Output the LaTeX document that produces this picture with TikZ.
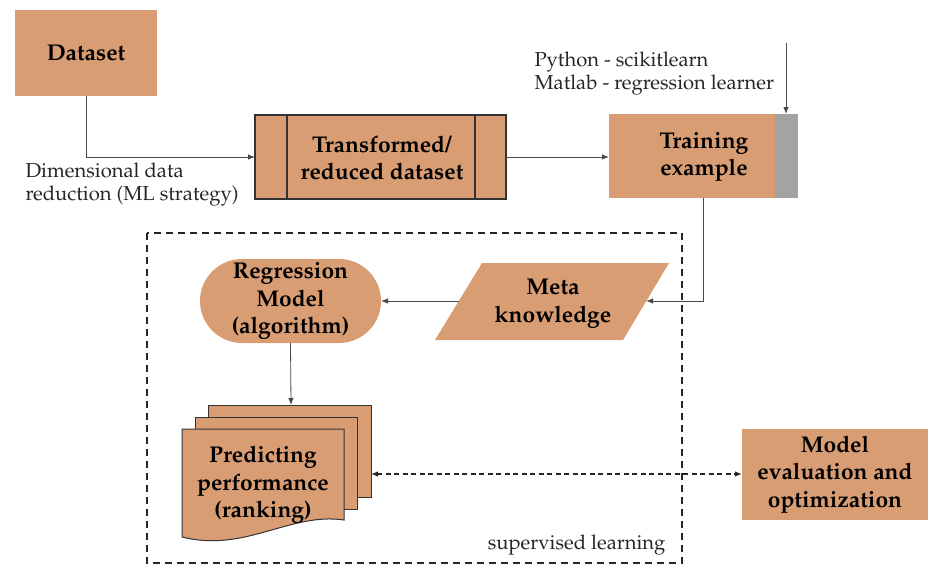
\documentclass[tikz,border=0pt]{standalone}
\usepackage[T1]{fontenc}
\usepackage{mathpazo}
\usetikzlibrary{arrows.meta,shapes.misc}
\definecolor{tanfill}{HTML}{D99D74}
\definecolor{barg}{HTML}{A3A3A3}
\definecolor{linec}{HTML}{4A4A4A}
\tikzset{
  boldtxt/.style={font=\fontsize{22.8}{27.5}\selectfont\bfseries, align=center, text=black},
  plaintxt/.style={font=\fontsize{20.2}{23.5}\selectfont, align=left, text=black!85},
  tanbox/.style={fill=tanfill, inner sep=0pt, outer sep=0pt, boldtxt},
  arr/.style={draw=linec, line width=0.8pt, -{Latex[length=7pt,width=5.5pt]}},
  darr/.style={draw=black!85, line width=1.3pt, dash pattern=on 5pt off 3.5pt, {Latex[length=7pt,width=5.5pt]}-{Latex[length=7pt,width=5.5pt]}},
  dbox/.style={draw=black!85, line width=1.6pt, dash pattern=on 7pt off 5pt},
  sheet/.style={fill=tanfill, draw=black!80, line width=1pt},
}
\begin{document}
\begin{tikzpicture}[x=1pt,y=-1pt]
\useasboundingbox (0,0) rectangle (928,565);

% Dataset
\node[tanbox, minimum width=142, minimum height=86] (data) at (86,53) {Dataset};

% Transformed / reduced dataset
\node[tanbox, draw=black!80, line width=1.1pt, minimum width=251, minimum height=84] (trans) at (380.5,157) {};
\draw[black!80, line width=1.1pt] ([xshift=32pt]trans.north west) -- ([xshift=32pt]trans.south west);
\draw[black!80, line width=1.1pt] ([xshift=-31pt]trans.north east) -- ([xshift=-31pt]trans.south east);
\node[boldtxt] (transt) at (382,158) {Transformed/\\reduced dataset};

% Training example
\node[tanbox, minimum width=189, minimum height=84] (train) at (703.5,156) {};
\fill[barg] (775,114) rectangle (798,198);
\node[boldtxt] (traint) at (704,157) {Training\\example};

% labels
\node[plaintxt, anchor=west] (dimlab) at (22,184.5) {Dimensional data\\reduction (ML strategy)};
\node[plaintxt, anchor=west] (pylab) at (531,73.5) {Python - scikitlearn\\Matlab - regression learner};
\coordinate (pyin) at (786,43);

% supervised learning box
\draw[dbox] (147,233) rectangle (682,563);
\node[plaintxt, anchor=east] (suplab) at (669,545) {supervised learning};

% Regression model
\node[tanbox, rounded rectangle, minimum width=181, minimum height=84] (reg) at (290.5,301) {Regression\\Model\\(algorithm)};

% Meta knowledge parallelogram
\fill[tanfill] (482,263) -- (669,263) -- (623,340) -- (435,340) -- cycle;
\node[boldtxt] (meta) at (553,304) {Meta\\knowledge};
\coordinate (metaR) at (646,301);
\coordinate (metaL) at (459,301);

% Predicting performance (stacked documents)
\draw[sheet] (208,405) rectangle (371,497);
\draw[sheet] (195,417) rectangle (357,509);
\draw[sheet] (182,429) -- (344,429) -- (344,520) .. controls (290,512) and (245,553) .. (182,537) -- cycle;
\node[boldtxt] (pred) at (263,485) {Predicting\\performance\\(ranking)};
\coordinate (predTop) at (291,405);
\coordinate (predR) at (371,474);

% Model evaluation
\node[tanbox, minimum width=186, minimum height=91] (eval) at (835,474.5) {Model\\evaluation and\\optimization};

% connectors
\draw[arr] (data.south) |- (trans.west);
\draw[arr] (trans.east) -- (train.west |- trans.east);
\draw[arr] (pyin) -- (pyin |- train.north);
\draw[arr] (train.south) |- (metaR);
\draw[arr] (metaL) -- (reg.east);
\draw[arr] (reg.south) -- (predTop);
\draw[darr] (predR) -- (eval.west |- predR);
\end{tikzpicture}
\end{document}
